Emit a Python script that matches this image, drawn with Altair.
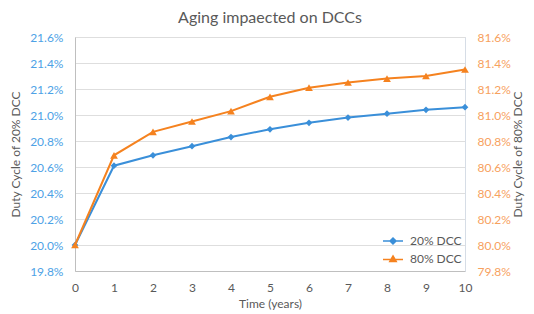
import altair as alt
import pandas as pd

years = list(range(11))
dcc20 = [20.00, 20.61, 20.69, 20.76, 20.83, 20.89, 20.94, 20.98, 21.01, 21.04, 21.06]
dcc80 = [80.00, 80.69, 80.87, 80.95, 81.03, 81.14, 81.21, 81.25, 81.28, 81.30, 81.35]
series = ["20% DCC", "80% DCC"]
left_ticks = [19.8, 20.0, 20.2, 20.4, 20.6, 20.8, 21.0, 21.2, 21.4, 21.6]
right_ticks = [79.8, 80.0, 80.2, 80.4, 80.6, 80.8, 81.0, 81.2, 81.4, 81.6]

BLUE = "#3a8fd9"
ORANGE = "#f5821f"
BLUE_TXT = "#4da2e6"
ORANGE_TXT = "#f7a15e"
GRAY = "#595959"
FONT = "Lato"

df = pd.DataFrame({"year": years, "dcc20": dcc20, "dcc80": dcc80})
leg = pd.DataFrame({"series": series, "year": [-5, -5], "dcc20": [20.0, 20.0]})

xaxis = alt.Axis(values=years, title="Time (years)", grid=False, ticks=False,
                 labelOverlap=False, labelFlush=False, tickCount=11,
                 labelColor=GRAY, titleColor=GRAY, labelPadding=11,
                 titlePadding=5, domainColor="#bfbfbf", labelFontSize=12,
                 titleFontSize=12, titleFontWeight="normal", labelFont=FONT, titleFont=FONT)
xscale = alt.Scale(domain=[0, 10], nice=False)
xenc = alt.X("year:Q", scale=xscale, axis=xaxis)

yaxis_left = alt.Axis(values=left_ticks, labelExpr="format(datum.value, '.1f') + '%'",
                      labelOverlap=False, labelFlush=False, tickCount=10,
                      title="Duty Cycle of 20% DCC", grid=True, gridColor="#dedede",
                      ticks=False, labelColor=BLUE_TXT, titleColor=GRAY, labelPadding=12,
                      titlePadding=7, domainColor="#bfbfbf", labelFontSize=12,
                      titleFontSize=12, titleFontWeight="normal", labelFont=FONT, titleFont=FONT)
yscale_left = alt.Scale(domain=[19.8, 21.6], nice=False, zero=False)
yleft = alt.Y("dcc20:Q", scale=yscale_left, axis=yaxis_left)

yright = alt.Y("dcc80:Q", scale=alt.Scale(domain=[79.8, 81.6], nice=False, zero=False),
               axis=alt.Axis(orient="right", values=right_ticks,
                             labelExpr="format(datum.value, '.1f') + '%'",
                             labelOverlap=False, labelFlush=False, tickCount=10,
                             title="Duty Cycle of 80% DCC", titleAngle=270, titleBaseline="top",
                             grid=False, ticks=False,
                             labelColor=ORANGE_TXT, titleColor=GRAY, labelPadding=12,
                             titlePadding=2, domainColor="#d6dde6", labelFontSize=12,
                             titleFontSize=12, titleFontWeight="normal", labelFont=FONT, titleFont=FONT))

base = alt.Chart(df)
line20 = base.mark_line(color=BLUE, strokeWidth=2).encode(x=xenc, y=yleft)
pts20 = base.mark_point(shape="diamond", filled=True, color=BLUE, size=45, opacity=1).encode(x=xenc, y=yleft)

diamond_path = "M-2.5,0H2.5M0,-0.75L0.75,0L0,0.75L-0.75,0Z"
triangle_path = "M-2.5,0.1H2.5M0,-0.75L0.8,0.6L-0.8,0.6Z"

legend_layer = alt.Chart(leg).mark_point(filled=True, clip=True, strokeWidth=1.8, opacity=1).encode(
    x=alt.X("year:Q", scale=xscale, axis=xaxis),
    y=alt.Y("dcc20:Q", scale=yscale_left, axis=yaxis_left),
    color=alt.Color("series:N", title=None,
                    scale=alt.Scale(domain=series, range=[BLUE, ORANGE]),
                    legend=alt.Legend(orient="none", legendX=312, legendY=198, padding=0,
                                      rowPadding=6, symbolSize=64, labelOffset=11,
                                      labelFontSize=12, labelColor=GRAY, labelFont=FONT)),
    stroke=alt.Stroke("series:N", title=None,
                      scale=alt.Scale(domain=series, range=[BLUE, ORANGE])),
    shape=alt.Shape("series:N", title=None,
                    scale=alt.Scale(domain=series, range=[diamond_path, triangle_path])),
)

line80 = base.mark_line(color=ORANGE, strokeWidth=2).encode(x=xenc, y=yright)
pts80 = base.mark_point(shape="triangle-up", filled=True, color=ORANGE, size=60, opacity=1).encode(x=xenc, y=yright)

left = alt.layer(line20, pts20, legend_layer)
right = alt.layer(line80, pts80)

chart = alt.layer(left, right).resolve_scale(y="independent").properties(
    width=390, height=234,
    autosize=alt.AutoSizeParams(type="none"),
    padding={"left": 67, "top": 29, "right": 61, "bottom": 42},
    title=alt.TitleParams("Aging impaected on DCCs", fontSize=16, font=FONT,
                          fontWeight="normal", color=GRAY, offset=5, anchor="middle"),
).configure_view(stroke=None).configure(background="white")

chart.save("out.html", embed_options={"renderer": "svg", "actions": False})
